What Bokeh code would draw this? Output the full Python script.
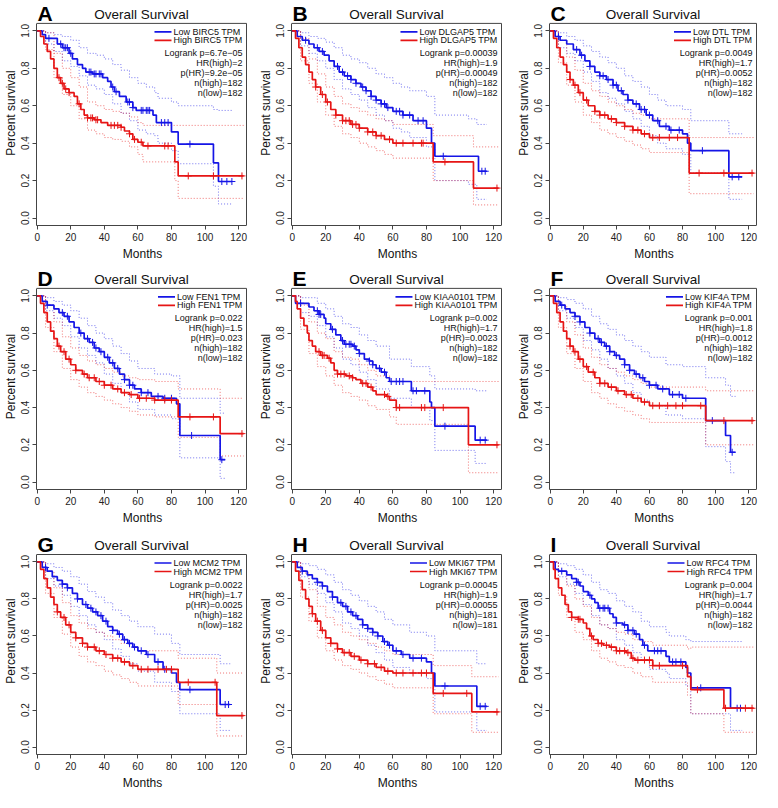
import math
from bokeh.plotting import figure
from bokeh.layouts import column, row
from bokeh.models import Label, FixedTicker
from bokeh.embed import file_html
from bokeh.resources import INLINE

# ---------------- data ----------------
PANELS = ["A", "B", "C", "D", "E", "F", "G", "H", "I"]
GENES = ["BIRC5", "DLGAP5", "DTL", "FEN1", "KIAA0101", "KIF4A", "MCM2", "MKI67", "RFC4"]
LOGRANK_P = ["6.7e\u221205", "0.00039", "0.0049", "0.022", "0.002", "0.001", "0.0022", "0.00045", "0.004"]
HR_HIGH = ["2", "1.9", "1.7", "1.5", "1.7", "1.8", "1.7", "1.9", "1.7"]
P_HR = ["9.2e\u221205", "0.00049", "0.0052", "0.023", "0.0023", "0.0012", "0.0025", "0.00055", "0.0044"]
N_HIGH = [182, 182, 182, 182, 182, 182, 182, 181, 182]
N_LOW = [182, 182, 182, 182, 182, 182, 182, 181, 182]

X_TICKS = [0, 20, 40, 60, 80, 100, 120]
X_TICK_LABELS = ["0", "20", "40", "60", "80", "100", "120"]
Y_TICKS = [0.0, 0.2, 0.4, 0.6, 0.8, 1.0]
Y_TICK_LABELS = ["0.0", "0.2", "0.4", "0.6", "0.8", "1.0"]

# Panel A (BIRC5)
A_LOW_T = [0, 3, 5, 12, 15, 19, 21, 24, 27, 29, 33, 39, 42, 44, 46, 49, 53, 57, 59, 69, 71, 80, 84, 105, 108, 116]
A_LOW_S = [1.0, .98, .96, .93, .91, .88, .85, .82, .80, .78, .77, .75, .73, .70, .675, .65, .62, .59, .575, .55, .51, .46, .395, .295, .195, .195]
A_HIGH_T = [0, 2, 4, 6, 8, 10, 12, 14, 16, 19, 22, 24, 26, 28, 30, 34, 38, 42, 50, 52, 55, 57, 60, 63, 82, 84, 123]
A_HIGH_S = [1.0, .97, .93, .89, .85, .80, .75, .72, .69, .67, .65, .61, .58, .55, .535, .525, .51, .495, .485, .465, .45, .42, .405, .385, .30, .225, .225]
A_LOW_CEN = [7, 14, 16, 17, 18, 20, 31, 32, 34, 35, 37, 38, 45, 47, 54, 55, 57, 62, 63, 65, 66, 67, 74, 76, 78, 91, 110, 113, 116]
A_HIGH_CEN = [13, 15, 17, 19, 25, 30, 32, 33, 35, 36, 44, 46, 48, 50, 55, 58, 62, 66, 76, 78, 90, 105, 122]
A_LOW_CI_T = [0, 5, 10, 15, 20, 25, 30, 35, 40, 45, 50, 55, 60, 65, 70, 72, 80, 84, 105, 108, 116]
A_LOW_CI_HI = [1, .99, .98, .97, .95, .91, .88, .87, .85, .82, .79, .75, .72, .70, .67, .64, .62, .60, .58, .575, .575]
A_LOW_CI_LO = [1, .93, .89, .84, .81, .76, .71, .69, .66, .61, .56, .52, .47, .45, .44, .40, .36, .29, .17, .075, .075]
A_HIGH_CI_T = [0, 5, 10, 15, 20, 25, 30, 35, 40, 45, 50, 55, 60, 63, 82, 84, 123]
A_HIGH_CI_HI = [1, .99, .88, .80, .75, .70, .62, .60, .58, .57, .56, .54, .51, .495, .495, .495, .495]
A_HIGH_CI_LO = [1, .90, .75, .66, .60, .53, .47, .45, .43, .42, .41, .38, .34, .30, .20, .105, .105]

# Panel B (DLGAP5)
B_LOW_T = [0, 3, 6, 10, 13, 16, 19, 22, 25, 28, 31, 35, 38, 41, 44, 47, 50, 53, 56, 60, 66, 72, 80, 83, 85, 111, 116]
B_LOW_S = [1, .97, .95, .93, .91, .89, .87, .84, .81, .78, .76, .74, .72, .70, .68, .65, .63, .61, .59, .57, .55, .52, .48, .40, .33, .25, .25]
B_HIGH_T = [0, 2, 4, 6, 8, 10, 12, 14, 17, 20, 23, 26, 30, 35, 40, 45, 50, 55, 60, 84, 108, 123]
B_HIGH_S = [1, .96, .91, .86, .82, .78, .74, .70, .66, .62, .58, .55, .52, .50, .48, .46, .44, .42, .40, .30, .16, .16]
B_LOW_CEN = [8, 15, 18, 27, 30, 33, 35, 38, 42, 44, 47, 50, 53, 55, 57, 62, 64, 66, 70, 75, 78, 90, 113, 115]
B_HIGH_CEN = [14, 18, 21, 26, 30, 32, 34, 36, 38, 40, 45, 48, 50, 53, 58, 62, 66, 72, 77, 78, 91, 122]
B_LOW_CI_T = [0, 5, 10, 15, 20, 25, 30, 35, 40, 45, 50, 55, 60, 65, 70, 80, 85, 105, 110, 116]
B_LOW_CI_HI = [1, .99, .97, .96, .94, .91, .87, .85, .83, .80, .77, .75, .72, .70, .68, .65, .55, .53, .50, .50]
B_LOW_CI_LO = [1, .92, .88, .84, .80, .74, .69, .66, .63, .59, .55, .52, .48, .46, .43, .38, .20, .18, .10, .10]
B_HIGH_CI_T = [0, 5, 10, 15, 20, 25, 30, 35, 40, 45, 50, 55, 60, 84, 108, 123]
B_HIGH_CI_HI = [1, .96, .85, .77, .70, .65, .61, .59, .57, .55, .53, .52, .50, .44, .38, .38]
B_HIGH_CI_LO = [1, .84, .72, .62, .55, .49, .45, .43, .40, .38, .36, .34, .32, .20, .07, .07]

# Panel C (DTL)
C_LOW_T = [0, 3, 6, 10, 14, 18, 21, 24, 27, 30, 34, 38, 41, 44, 47, 50, 54, 58, 62, 66, 72, 80, 83, 85, 108, 116]
C_LOW_S = [1, .97, .95, .93, .90, .87, .84, .81, .78, .76, .74, .71, .68, .66, .63, .61, .58, .55, .52, .49, .47, .45, .40, .36, .22, .22]
C_HIGH_T = [0, 2, 4, 6, 8, 10, 12, 14, 17, 20, 23, 27, 30, 35, 40, 45, 50, 55, 60, 84, 123]
C_HIGH_S = [1, .96, .91, .86, .82, .78, .74, .71, .67, .63, .60, .57, .55, .53, .51, .49, .47, .45, .43, .24, .24]
C_LOW_CEN = [5, 16, 19, 24, 30, 32, 35, 38, 40, 43, 47, 52, 55, 57, 60, 65, 70, 73, 78, 92, 110, 114]
C_HIGH_CEN = [12, 15, 18, 22, 27, 30, 33, 37, 40, 45, 50, 53, 57, 62, 66, 72, 77, 90, 105, 122]
C_LOW_CI_T = [0, 5, 10, 15, 20, 25, 30, 35, 40, 45, 50, 55, 60, 65, 70, 80, 85, 108, 116]
C_LOW_CI_HI = [1, .99, .97, .95, .92, .89, .86, .83, .80, .76, .73, .70, .66, .63, .60, .58, .52, .45, .45]
C_LOW_CI_LO = [1, .91, .88, .84, .78, .73, .67, .64, .61, .57, .53, .49, .44, .40, .37, .34, .24, .10, .10]
C_HIGH_CI_T = [0, 5, 10, 15, 20, 25, 30, 35, 40, 45, 50, 55, 60, 84, 123]
C_HIGH_CI_HI = [1, .95, .86, .79, .72, .68, .65, .62, .60, .58, .56, .55, .53, .43, .43]
C_HIGH_CI_LO = [1, .83, .71, .62, .55, .51, .47, .45, .43, .41, .39, .37, .35, .13, .13]

# Panel D (FEN1)
D_LOW_T = [0, 3, 6, 10, 13, 16, 19, 22, 25, 28, 31, 34, 37, 40, 43, 46, 49, 52, 55, 58, 62, 68, 75, 83, 85, 109, 112]
D_LOW_S = [1, .97, .95, .93, .91, .89, .86, .83, .80, .77, .75, .72, .70, .67, .64, .61, .58, .55, .52, .50, .48, .46, .45, .42, .25, .12, .12]
D_HIGH_T = [0, 2, 4, 6, 8, 10, 12, 14, 17, 20, 23, 27, 30, 35, 40, 45, 50, 55, 60, 70, 84, 109, 123]
D_HIGH_S = [1, .96, .91, .86, .81, .77, .73, .70, .66, .63, .60, .58, .56, .54, .52, .50, .48, .47, .45, .44, .35, .26, .26]
D_LOW_CEN = [6, 15, 18, 26, 30, 33, 35, 38, 42, 45, 48, 52, 55, 57, 62, 66, 72, 76, 80, 92, 110]
D_HIGH_CEN = [13, 16, 19, 23, 28, 31, 34, 37, 40, 44, 48, 52, 56, 61, 65, 70, 76, 80, 91, 105, 122]
D_LOW_CI_T = [0, 5, 10, 15, 20, 25, 30, 35, 40, 45, 50, 55, 60, 70, 80, 85, 109, 112]
D_LOW_CI_HI = [1, .99, .97, .95, .92, .88, .84, .80, .77, .73, .69, .65, .61, .58, .57, .45, .37, .37]
D_LOW_CI_LO = [1, .92, .88, .84, .78, .72, .68, .64, .58, .53, .48, .43, .39, .36, .34, .13, .02, .02]
D_HIGH_CI_T = [0, 5, 10, 15, 20, 25, 30, 35, 40, 45, 50, 55, 60, 70, 84, 109, 123]
D_HIGH_CI_HI = [1, .95, .86, .78, .72, .68, .65, .63, .61, .59, .57, .56, .55, .54, .50, .45, .45]
D_HIGH_CI_LO = [1, .83, .70, .61, .55, .51, .48, .46, .44, .42, .40, .38, .36, .35, .24, .14, .14]

# Panel E (KIAA0101)
E_LOW_T = [0, 2, 10, 13, 16, 19, 20, 23, 26, 29, 31, 36, 38, 40, 43, 46, 48, 50, 53, 56, 58, 71, 82, 83, 85, 109, 116]
E_LOW_S = [1, .96, .94, .92, .90, .88, .85, .82, .79, .76, .74, .73, .71, .69, .66, .65, .63, .61, .59, .56, .54, .49, .43, .40, .30, .225, .225]
E_HIGH_T = [0, 2, 3, 5, 7, 9, 10, 12, 14, 17, 21, 23, 25, 27, 32, 36, 38, 41, 45, 48, 50, 56, 58, 62, 105, 123]
E_HIGH_S = [1, .97, .93, .88, .84, .80, .76, .73, .70, .68, .665, .64, .60, .58, .57, .56, .55, .53, .51, .49, .47, .46, .44, .40, .20, .20]
E_LOW_CEN = [5, 15, 16, 17, 24, 30, 32, 34, 35, 37, 40, 46, 48, 52, 55, 59, 62, 64, 66, 72, 74, 79, 91, 112, 115]
E_HIGH_CEN = [16, 18, 19, 22, 27, 29, 31, 34, 36, 42, 44, 47, 55, 57, 62, 64, 77, 79, 90, 122]
E_LOW_CI_T = [0, 5, 10, 15, 20, 25, 30, 35, 40, 45, 50, 58, 71, 82, 85, 109, 116]
E_LOW_CI_HI = [1, .99, .99, .96, .93, .89, .85, .83, .79, .76, .73, .66, .62, .57, .50, .49, .49]
E_LOW_CI_LO = [1, .91, .89, .84, .78, .72, .66, .63, .59, .55, .50, .45, .40, .33, .17, .10, .10]
E_HIGH_CI_T = [0, 5, 10, 15, 20, 25, 30, 35, 40, 45, 50, 58, 62, 105, 123]
E_HIGH_CI_HI = [1, .95, .86, .80, .77, .70, .67, .66, .63, .60, .57, .54, .54, .54, .54]
E_HIGH_CI_LO = [1, .82, .69, .62, .57, .52, .48, .46, .44, .41, .39, .35, .31, .05, .05]

# Panel F (KIF4A)
F_LOW_T = [0, 3, 6, 9, 12, 15, 18, 21, 24, 27, 30, 33, 36, 39, 42, 45, 48, 51, 54, 57, 60, 65, 72, 80, 94, 106, 109, 112]
F_LOW_S = [1, .97, .95, .93, .91, .89, .86, .83, .80, .77, .75, .73, .70, .68, .66, .63, .60, .58, .56, .54, .52, .50, .47, .45, .33, .25, .16, .16]
F_HIGH_T = [0, 2, 4, 6, 8, 10, 12, 14, 17, 20, 23, 27, 30, 35, 40, 45, 50, 55, 60, 94, 123]
F_HIGH_S = [1, .96, .91, .86, .81, .77, .73, .70, .66, .62, .59, .56, .53, .51, .49, .47, .45, .43, .41, .33, .33]
F_LOW_CEN = [7, 15, 18, 24, 29, 31, 34, 36, 40, 45, 48, 52, 56, 60, 64, 68, 74, 78, 82, 98, 110]
F_HIGH_CEN = [12, 15, 18, 22, 26, 30, 33, 37, 41, 46, 49, 53, 57, 62, 66, 71, 76, 80, 91, 105, 122]
F_LOW_CI_T = [0, 5, 10, 15, 20, 25, 30, 35, 40, 45, 50, 55, 60, 70, 80, 94, 106, 109, 112]
F_LOW_CI_HI = [1, .99, .98, .96, .93, .89, .85, .82, .79, .76, .73, .70, .67, .63, .62, .56, .52, .46, .46]
F_LOW_CI_LO = [1, .92, .88, .83, .76, .71, .66, .61, .57, .53, .48, .44, .41, .36, .34, .19, .11, .05, .05]
F_HIGH_CI_T = [0, 5, 10, 15, 20, 25, 30, 35, 40, 45, 50, 55, 60, 94, 123]
F_HIGH_CI_HI = [1, .95, .86, .79, .72, .67, .63, .61, .59, .57, .55, .53, .51, .49, .49]
F_HIGH_CI_LO = [1, .83, .69, .61, .54, .48, .45, .42, .40, .38, .36, .34, .32, .20, .20]

# Panel G (MCM2)
G_LOW_T = [0, 3, 6, 9, 12, 15, 18, 21, 24, 27, 30, 33, 36, 39, 42, 45, 48, 51, 54, 57, 60, 65, 70, 75, 80, 83, 85, 109, 115]
G_LOW_S = [1, .97, .95, .92, .90, .88, .86, .83, .80, .77, .75, .73, .71, .68, .65, .63, .61, .58, .56, .54, .52, .50, .46, .42, .40, .35, .31, .23, .23]
G_HIGH_T = [0, 2, 4, 6, 8, 10, 12, 14, 17, 20, 23, 27, 30, 35, 40, 45, 50, 55, 60, 84, 107, 123]
G_HIGH_S = [1, .96, .91, .86, .81, .77, .73, .70, .66, .62, .59, .56, .54, .52, .50, .48, .46, .44, .42, .35, .17, .17]
G_LOW_CEN = [5, 15, 18, 24, 29, 32, 35, 38, 41, 45, 49, 52, 55, 58, 62, 66, 72, 76, 91, 112, 114]
G_HIGH_CEN = [12, 16, 19, 23, 27, 30, 34, 37, 41, 45, 48, 52, 57, 62, 66, 72, 77, 80, 90, 106, 122]
G_LOW_CI_T = [0, 5, 10, 15, 20, 25, 30, 35, 40, 45, 50, 55, 60, 70, 80, 85, 109, 115]
G_LOW_CI_HI = [1, .99, .97, .95, .92, .88, .84, .81, .78, .74, .71, .68, .65, .61, .56, .50, .45, .45]
G_LOW_CI_LO = [1, .91, .87, .82, .76, .71, .66, .62, .58, .53, .49, .45, .41, .35, .30, .18, .09, .09]
G_HIGH_CI_T = [0, 5, 10, 15, 20, 25, 30, 35, 40, 45, 50, 55, 60, 84, 107, 123]
G_HIGH_CI_HI = [1, .95, .86, .78, .71, .67, .64, .62, .60, .58, .56, .54, .52, .48, .40, .40]
G_HIGH_CI_LO = [1, .83, .70, .61, .54, .49, .46, .44, .41, .39, .37, .35, .33, .23, .06, .06]

# Panel H (MKI67)
H_LOW_T = [0, 3, 6, 9, 12, 15, 18, 21, 24, 27, 30, 33, 36, 39, 42, 45, 48, 51, 54, 57, 60, 65, 70, 80, 83, 85, 110, 116]
H_LOW_S = [1, .97, .95, .93, .91, .89, .87, .84, .81, .78, .76, .73, .71, .69, .66, .64, .62, .60, .57, .55, .52, .50, .48, .46, .40, .33, .22, .22]
H_HIGH_T = [0, 2, 4, 6, 8, 10, 12, 14, 17, 20, 23, 27, 30, 35, 40, 45, 50, 55, 60, 84, 107, 123]
H_HIGH_S = [1, .95, .90, .85, .80, .76, .72, .68, .63, .59, .56, .53, .51, .49, .47, .45, .43, .41, .40, .29, .19, .19]
H_LOW_CEN = [6, 15, 18, 24, 29, 32, 35, 38, 42, 45, 48, 51, 55, 58, 62, 66, 72, 77, 91, 112, 115]
H_HIGH_CEN = [12, 15, 18, 23, 27, 31, 34, 37, 41, 45, 49, 53, 57, 62, 66, 72, 77, 80, 90, 104, 122]
H_LOW_CI_T = [0, 5, 10, 15, 20, 25, 30, 35, 40, 45, 50, 55, 60, 70, 80, 85, 110, 116]
H_LOW_CI_HI = [1, .99, .98, .96, .93, .89, .85, .82, .79, .76, .73, .69, .66, .62, .60, .52, .45, .45]
H_LOW_CI_LO = [1, .92, .88, .83, .78, .73, .67, .64, .60, .55, .51, .47, .43, .40, .37, .19, .09, .09]
H_HIGH_CI_T = [0, 5, 10, 15, 20, 25, 30, 35, 40, 45, 50, 55, 60, 84, 107, 123]
H_HIGH_CI_HI = [1, .94, .85, .76, .70, .66, .62, .60, .58, .56, .54, .52, .50, .44, .38, .38]
H_HIGH_CI_LO = [1, .81, .68, .59, .52, .47, .44, .42, .40, .38, .36, .34, .32, .18, .08, .08]

# Panel I (RFC4)
I_LOW_T = [0, 3, 5, 10, 13, 16, 18, 20, 23, 25, 27, 29, 36, 38, 40, 44, 47, 51, 54, 56, 59, 70, 72, 82, 83, 85, 109, 116]
I_LOW_S = [1, .96, .95, .93, .91, .89, .87, .84, .82, .80, .78, .75, .72, .70, .67, .66, .63, .61, .58, .55, .52, .49, .46, .43, .40, .32, .21, .21]
I_HIGH_T = [0, 2, 3, 5, 7, 9, 11, 13, 17, 20, 22, 24, 26, 29, 32, 36, 40, 46, 49, 51, 62, 83, 85, 105, 123]
I_HIGH_S = [1, .96, .91, .86, .82, .77, .73, .70, .69, .67, .64, .60, .58, .56, .55, .54, .52, .51, .48, .47, .44, .38, .31, .21, .21]
I_LOW_CEN = [7, 16, 17, 24, 30, 32, 33, 35, 40, 45, 47, 50, 52, 57, 63, 65, 67, 74, 76, 79, 91, 113, 115]
I_HIGH_CEN = [13, 17, 18, 25, 29, 31, 34, 37, 40, 42, 45, 47, 50, 53, 57, 60, 62, 66, 80, 89, 106, 118, 122]
I_LOW_CI_T = [0, 5, 10, 15, 20, 25, 30, 35, 40, 45, 50, 55, 60, 70, 72, 82, 85, 109, 116]
I_LOW_CI_HI = [1, .99, .98, .96, .93, .89, .85, .83, .79, .76, .73, .68, .65, .62, .60, .58, .57, .57, .57]
I_LOW_CI_LO = [1, .92, .88, .83, .77, .71, .66, .64, .58, .55, .51, .47, .42, .40, .37, .33, .18, .09, .09]
I_HIGH_CI_T = [0, 5, 10, 15, 20, 25, 30, 35, 40, 45, 50, 55, 62, 83, 85, 105, 123]
I_HIGH_CI_HI = [1, .95, .87, .80, .76, .70, .66, .64, .62, .61, .58, .57, .55, .53, .54, .54, .54]
I_HIGH_CI_LO = [1, .82, .70, .62, .58, .52, .48, .46, .44, .43, .40, .38, .35, .28, .18, .08, .08]

# ---------------- layout / style ----------------
XMIN, XMAX = -0.4, 124.7      # plot box (months)
YMIN, YMAX = -0.04, 1.04      # plot box (survival)
COL_W = [252, 260, 250]
COL_BL = [36, 39, 37]
COL_BR = [4, 9, 4]
ROW_EXT = [23, 25, 27]        # free space above the box, inside the frame
ROW_BOX = [203, 202, 200]
ROW_BB = [37, 37, 38]
BLUE = "#1515e6"
RED = "#e61515"
EDGE = "#444444"
FONT = "Liberation Sans"
LEG_SIZE = 9

# Arial / Liberation Sans advance widths (per 1000 em) used to right-align the legend block
ARIAL_W = {" ": 278, "A": 667, "B": 667, "C": 722, "D": 722, "E": 667, "F": 611, "G": 778,
           "H": 722, "I": 278, "K": 667, "L": 556, "M": 833, "N": 722, "P": 667, "R": 722,
           "T": 611, "g": 556, "h": 556, "i": 222, "o": 556, "w": 722}

g = globals()


def text_w(s, size):
    return sum(ARIAL_W.get(ch, 556) for ch in s) * size / 1000.0


def step_at(T, S, t):
    v = S[0]
    for ti, si in zip(T, S):
        if ti <= t:
            v = si
        else:
            break
    return v


def make_panel(i):
    L = PANELS[i]
    r, c = divmod(i, 3)
    frame_w = COL_W[c] - COL_BL[c] - COL_BR[c]
    dx = (XMAX - XMIN) / (frame_w - 2)
    xend = XMAX + 2 * dx
    dy = (YMAX - YMIN) / ROW_BOX[r]
    ytop = YMAX + ROW_EXT[r] * dy
    p = figure(width=COL_W[c], height=ROW_EXT[r] + ROW_BOX[r] + ROW_BB[r],
               x_range=(XMIN, xend), y_range=(YMIN, ytop),
               output_backend="svg", toolbar_location=None, title=None,
               min_border_left=COL_BL[c], min_border_right=COL_BR[c],
               min_border_top=0, min_border_bottom=ROW_BB[r])
    p.grid.visible = False
    p.outline_line_color = None
    p.xaxis.ticker = FixedTicker(ticks=X_TICKS)
    p.xaxis.major_label_overrides = dict(zip(X_TICKS, X_TICK_LABELS))
    p.yaxis.ticker = FixedTicker(ticks=Y_TICKS)
    p.yaxis.major_label_overrides = dict(zip(Y_TICKS, Y_TICK_LABELS))
    p.xaxis.bounds = (XMIN, XMAX)
    p.yaxis.bounds = (YMIN, YMAX)
    p.axis.minor_tick_line_color = None
    p.axis.major_tick_out = 4
    p.axis.major_tick_in = 0
    p.axis.axis_line_color = EDGE
    p.axis.major_tick_line_color = EDGE
    p.axis.major_label_text_font = FONT
    p.axis.major_label_text_font_size = "10px"
    p.axis.major_label_text_color = "#222222"
    p.xaxis.major_label_standoff = 3
    p.yaxis.major_label_standoff = 3
    p.yaxis.major_label_orientation = "vertical"
    p.axis.axis_label_text_font = FONT
    p.axis.axis_label_text_font_size = "12px"
    p.axis.axis_label_text_font_style = "normal"
    p.axis.axis_label_text_color = "#111111"
    p.xaxis.axis_label_standoff = 3
    p.yaxis.axis_label_standoff = 1
    p.xaxis.axis_label = "Months"
    p.yaxis.axis_label = "Percent survival"

    # top and right edges of the plot box
    p.segment(x0=[XMIN, XMAX], y0=[YMAX, YMIN], x1=[XMAX, XMAX], y1=[YMAX, YMAX],
              line_color=EDGE, line_width=1)

    # confidence bands (dotted)
    for grp, col in (("LOW", BLUE), ("HIGH", RED)):
        T = g[f"{L}_{grp}_CI_T"]
        for key in ("HI", "LO"):
            p.step(T, g[f"{L}_{grp}_CI_{key}"], mode="after", line_color=col,
                   line_alpha=0.6, line_width=1, line_dash="1 2")

    for grp, col in (("LOW", BLUE), ("HIGH", RED)):
        T = g[f"{L}_{grp}_T"]
        S = g[f"{L}_{grp}_S"]
        p.step(T, S, mode="after", line_color=col, line_width=1.7)
        cen = g[f"{L}_{grp}_CEN"]
        p.scatter(cen, [step_at(T, S, t) for t in cen], marker="cross", size=7,
                  line_color=col, line_width=1)

    # legend block (right-aligned at the box's top-right corner)
    leg_low = f"Low {GENES[i]} TPM"
    leg_high = f"High {GENES[i]} TPM"
    wtxt = max(text_w(leg_low, LEG_SIZE), text_w(leg_high, LEG_SIZE))
    x_text_px = 4 + wtxt
    for k, (txt, col) in enumerate(((leg_low, BLUE), (leg_high, RED))):
        yoff = -8.5 - 8.5 * k
        yy = YMAX + yoff * dy
        p.segment(x0=[XMAX - (x_text_px + 2 + 17) * dx], y0=[yy],
                  x1=[XMAX - (x_text_px + 2) * dx], y1=[yy], line_color=col, line_width=1.7)
        p.add_layout(Label(x=XMAX, y=YMAX, x_offset=-x_text_px, y_offset=yoff, text=txt,
                           text_font=FONT, text_font_size=f"{LEG_SIZE}px", text_align="left",
                           text_baseline="middle", text_color="#111111"))

    stats = [f"Logrank p={LOGRANK_P[i]}", f"HR(high)={HR_HIGH[i]}", f"p(HR)={P_HR[i]}",
             f"n(high)={N_HIGH[i]}", f"n(low)={N_LOW[i]}"]
    for k, s in enumerate(stats):
        p.add_layout(Label(x=XMAX, y=YMAX, x_offset=-4, y_offset=-30 - 10 * k, text=s,
                           text_font=FONT, text_font_size=f"{LEG_SIZE}px", text_align="right",
                           text_baseline="middle", text_color="#111111"))

    p.add_layout(Label(x=(XMIN + XMAX) / 2, y=YMAX, y_offset=9, text="Overall Survival",
                       text_font=FONT, text_font_size="13.5px", text_align="center",
                       text_baseline="middle", text_color="#111111"))
    p.add_layout(Label(x=XMIN, y=YMAX, x_offset=1, y_offset=10, text=L,
                       text_font=FONT, text_font_size="21px", text_font_style="bold",
                       text_align="left", text_baseline="middle", text_color="#000000"))
    return p


figs = [make_panel(i) for i in range(9)]
layout = column(row(*figs[0:3]), row(*figs[3:6]), row(*figs[6:9]))

open("out.html", "w").write(file_html(layout, INLINE))
